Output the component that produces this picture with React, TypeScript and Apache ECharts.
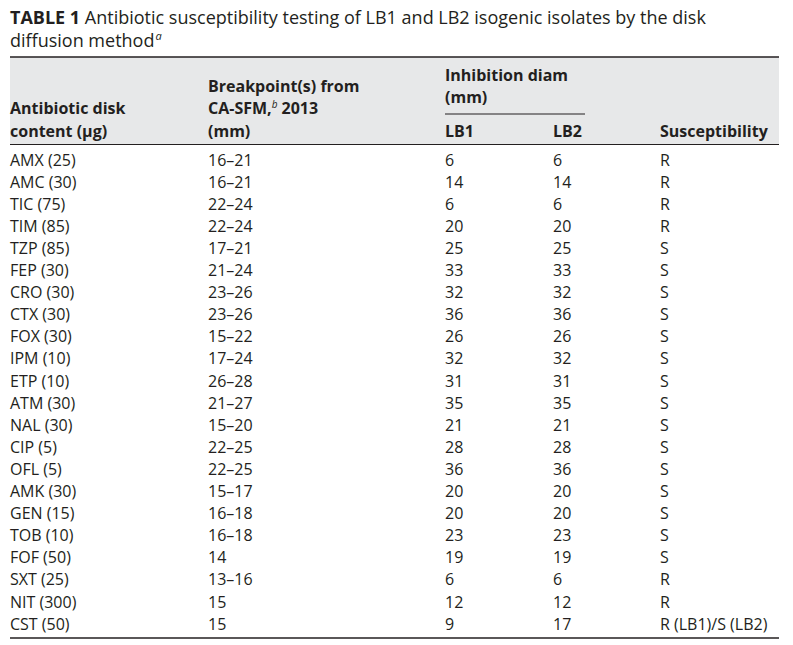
import React, { useEffect, useRef } from "react";
import * as echarts from "echarts";

const antibiotics = ["AMX (25)", "AMC (30)", "TIC (75)", "TIM (85)", "TZP (85)", "FEP (30)", "CRO (30)", "CTX (30)", "FOX (30)", "IPM (10)", "ETP (10)", "ATM (30)", "NAL (30)", "CIP (5)", "OFL (5)", "AMK (30)", "GEN (15)", "TOB (10)", "FOF (50)", "SXT (25)", "NIT (300)", "CST (50)"];
const breakpoints = ["16–21", "16–21", "22–24", "22–24", "17–21", "21–24", "23–26", "23–26", "15–22", "17–24", "26–28", "21–27", "15–20", "22–25", "22–25", "15–17", "16–18", "16–18", "14", "13–16", "15", "15"];
const lb1 = [6, 14, 6, 20, 25, 33, 32, 36, 26, 32, 31, 35, 21, 28, 36, 20, 20, 23, 19, 6, 12, 9];
const lb2 = [6, 14, 6, 20, 25, 33, 32, 36, 26, 32, 31, 35, 21, 28, 36, 20, 20, 23, 19, 6, 12, 17];
const susceptibility = ["R", "R", "R", "R", "S", "S", "S", "S", "S", "S", "S", "S", "S", "S", "S", "S", "S", "S", "S", "R", "R", "R (LB1)/S (LB2)"];

const FONT = "'Open Sans', 'Noto Sans', sans-serif";
const INK = "#231f20";

export default function App() {
  const ref = useRef<HTMLDivElement>(null);
  useEffect(() => {
    const chart = echarts.init(ref.current!, null, { renderer: "svg" });
    const colX = [10, 208, 445, 553, 660];
    const rowY0 = 159.5;
    const rowH = 22.1;
    const bodyFs = 16;
    const hdrFs = 16;
    const txt = (text: string, x: number, y: number, opts: any = {}) => ({
      type: "text",
      x,
      y,
      silent: true,
      style: {
        text,
        fill: INK,
        fontFamily: FONT,
        fontSize: bodyFs,
        verticalAlign: "middle",
        align: "left",
        ...opts,
      },
    });
    const elements: any[] = [];
    // title
    elements.push({
      type: "text",
      x: 10,
      y: 16.5,
      style: {
        text: "{b|TABLE 1} Antibiotic susceptibility testing of LB1 and LB2 isogenic isolates by the disk",
        fill: INK,
        fontFamily: FONT,
        fontSize: 18,
        verticalAlign: "middle",
        rich: {
          b: { fontWeight: "bold", fontFamily: FONT, fontSize: 18, fill: INK },
        },
      },
    });
    elements.push({
      type: "text",
      x: 10,
      y: 40,
      style: {
        text: "diffusion method{sup|a}",
        fill: INK,
        fontFamily: FONT,
        fontSize: 18,
        verticalAlign: "middle",
        rich: {
          sup: { fontStyle: "italic", fontFamily: FONT, fontSize: 11, fill: INK, verticalAlign: "top", padding: [0, 0, 10, 1] },
        },
      },
    });
    // header band
    elements.push({ type: "rect", shape: { x: 10, y: 57, width: 769, height: 87.5 }, style: { fill: "#e7e8e9" }, silent: true });
    elements.push({ type: "line", shape: { x1: 10, y1: 57, x2: 779, y2: 57 }, style: { stroke: INK, lineWidth: 1.6 } });
    elements.push({ type: "line", shape: { x1: 10, y1: 144.5, x2: 779, y2: 144.5 }, style: { stroke: INK, lineWidth: 1 } });
    elements.push({ type: "line", shape: { x1: 445, y1: 114, x2: 585, y2: 114 }, style: { stroke: INK, lineWidth: 1 } });
    elements.push({ type: "line", shape: { x1: 10, y1: 638, x2: 779, y2: 638 }, style: { stroke: INK, lineWidth: 1.6 } });
    const hb = { fontWeight: "bold", fontSize: hdrFs };
    elements.push(txt("Antibiotic disk", colX[0], 108, hb));
    elements.push(txt("content (μg)", colX[0], 131, hb));
    elements.push(txt("Breakpoint(s) from", colX[1], 86, hb));
    elements.push({
      type: "text",
      x: colX[1],
      y: 108,
      style: {
        text: "CA-SFM,{sup|b} 2013",
        fill: INK,
        fontFamily: FONT,
        fontSize: hdrFs,
        fontWeight: "bold",
        verticalAlign: "middle",
        rich: {
          sup: { fontStyle: "italic", fontFamily: FONT, fontSize: 10, fill: INK, fontWeight: "normal", padding: [0, 0, 9, 0] },
        },
      },
    });
    elements.push(txt("(mm)", colX[1], 131, hb));
    elements.push(txt("Inhibition diam", colX[2], 75, hb));
    elements.push(txt("(mm)", colX[2], 97, hb));
    elements.push(txt("LB1", colX[2], 131, hb));
    elements.push(txt("LB2", colX[3], 131, hb));
    elements.push(txt("Susceptibility", colX[4], 131, hb));
    antibiotics.forEach((a, i) => {
      const y = rowY0 + i * rowH;
      elements.push(txt(a, colX[0], y));
      elements.push(txt(breakpoints[i], colX[1], y));
      elements.push(txt(String(lb1[i]), colX[2], y));
      elements.push(txt(String(lb2[i]), colX[3], y));
      elements.push(txt(susceptibility[i], colX[4], y));
    });
    chart.setOption({
      animation: false,
      backgroundColor: "#ffffff",
      graphic: { elements },
    });
    return () => chart.dispose();
  }, []);
  return <div ref={ref} style={{ position: "fixed", left: 0, top: 0, width: 793, height: 645 }} />;
}
